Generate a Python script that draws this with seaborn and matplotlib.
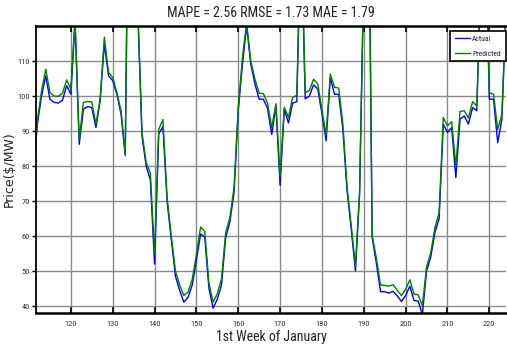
import matplotlib
matplotlib.use("Agg")
import matplotlib.pyplot as plt
from matplotlib import font_manager
import seaborn as sns
import pandas as pd

hours = list(range(111, 225))
actual = [78, 92, 100, 105.8, 99.1, 98.2, 98, 98.8, 103, 100.5,
          121, 86.2, 96.2, 97, 96.7, 91, 98.6, 114.9, 105.8, 104.4,
          100.5, 94.8, 83, 190, 190, 124, 88.6, 80, 76, 52,
          89.2, 91.3, 70, 59, 48.5, 44.5, 41.1, 42.5, 46, 53,
          60.6, 59.7, 45, 39.4, 42, 46, 59.6, 64, 72.5, 95.8,
          109, 120, 109.1, 103.4, 99.1, 99.1, 96.5, 89, 97.3, 74.5,
          96.3, 92.3, 98, 98.4, 150, 99.2, 100, 103.2, 102, 95,
          87.2, 105.3, 100.5, 100.5, 90.5, 73, 62, 50, 72, 135,
          180, 59.6, 52.3, 44.1, 44.1, 43.7, 44.2, 42.9, 41.3, 43,
          45.7, 41.6, 41.4, 37.6, 50, 54, 61, 65, 92, 89.6,
          91, 76.7, 93.4, 94.3, 92, 96.7, 95.8, 136, 150, 99.1,
          99.1, 86.7, 93.4, 125]
predicted = [79, 93, 101.5, 107.7, 101, 100, 99.9, 100.8, 104.6, 102,
             122, 87.5, 98.2, 98.4, 98.3, 92, 99.2, 116.8, 106.8, 105.3,
             101, 95.8, 83.5, 190, 190, 125, 89.6, 81, 78, 55,
             90.5, 93.3, 71, 60, 50, 46, 43, 44, 47.6, 54.7,
             62.6, 61.3, 46.5, 41.1, 43.5, 47.8, 61, 65.3, 74, 96.7,
             111, 121, 110, 104.8, 100.8, 100.7, 98, 91, 97.8, 77,
             96.8, 93.9, 99.6, 100.2, 150, 101, 101.6, 104.8, 103.4, 96,
             89, 106.3, 102.5, 102.3, 92, 74, 63, 51.5, 73, 135,
             180, 60.2, 53.7, 46, 45.9, 45.7, 46.1, 44.5, 43, 44.8,
             47.5, 43.4, 43.2, 40, 51.2, 55.3, 62.4, 66.7, 93.9, 91.5,
             92.7, 80, 95.6, 95.8, 93.7, 98.4, 97.2, 136, 150, 101,
             100.5, 90.5, 94.8, 126]

title_text = "MAPE = 2.56 RMSE = 1.73 MAE = 1.79"
x_label = "1st Week of January"
y_label = "Price($/MW)"
x_ticks = [120, 130, 140, 150, 160, 170, 180, 190, 200, 210, 220]
y_ticks = [40, 50, 60, 70, 80, 90, 100, 110]

df = pd.DataFrame({"hour": hours, "Actual": actual, "Predicted": predicted})

sns.set_theme(style="white")
available = {f.name for f in font_manager.fontManager.ttflist}
narrow = None
for cand in ["Liberation Sans Narrow", "DejaVu Sans Condensed", "Roboto Condensed", "Open Sans Condensed"]:
    if cand in available:
        narrow = cand
        break
if narrow is None:
    narrow = "Liberation Sans"
plt.rcParams["font.family"] = [narrow, "DejaVu Sans"]

fig = plt.figure(figsize=(5.07, 3.52), dpi=100)
ax = fig.add_axes([0.0704, 0.1116, 0.9286, 0.8154])

sns.lineplot(data=df, x="hour", y="Actual", ax=ax, color="#0000ff", lw=1.0, label="Actual")
sns.lineplot(data=df, x="hour", y="Predicted", ax=ax, color="#007f00", lw=1.0, label="Predicted")

ax.set_xlim(111.6, 224.1)
ax.set_ylim(38.1, 120.1)
ax.set_xticks(x_ticks)
ax.set_yticks(y_ticks)
ax.tick_params(axis="x", direction="in", top=True, bottom=True, length=4, width=1.2,
               labelsize=6, color="black", labelcolor="#333333", pad=6)
ax.tick_params(axis="y", direction="out", left=True, length=3, width=1.0,
               labelsize=6, color="black", labelcolor="#333333", pad=1)
ax.grid(True, color="#8a8a8a", lw=1.0)
ax.set_axisbelow(True)

for side in ["left"]:
    ax.spines[side].set_color("black")
    ax.spines[side].set_linewidth(1.3)
for side in ["top", "bottom"]:
    ax.spines[side].set_color("black")
    ax.spines[side].set_linewidth(1.8)
ax.spines["right"].set_visible(False)

ax.set_title(title_text, fontsize=10, pad=6, color="#222222")
ax.set_xlabel(x_label, fontsize=10, color="#222222", labelpad=2)
ax.set_ylabel(y_label, fontsize=9, color="#222222", labelpad=1.5, family="DejaVu Sans")

leg = ax.legend(loc="upper right", bbox_to_anchor=(0.998, 0.982), borderaxespad=0,
                fontsize=5.5, frameon=True, fancybox=False, handlelength=2.0,
                handletextpad=0.3, borderpad=0.6, labelspacing=1.1)
leg.get_frame().set_edgecolor("black")
leg.get_frame().set_linewidth(1.2)
leg.get_frame().set_alpha(1)

fig.savefig("out.png", dpi=100)
